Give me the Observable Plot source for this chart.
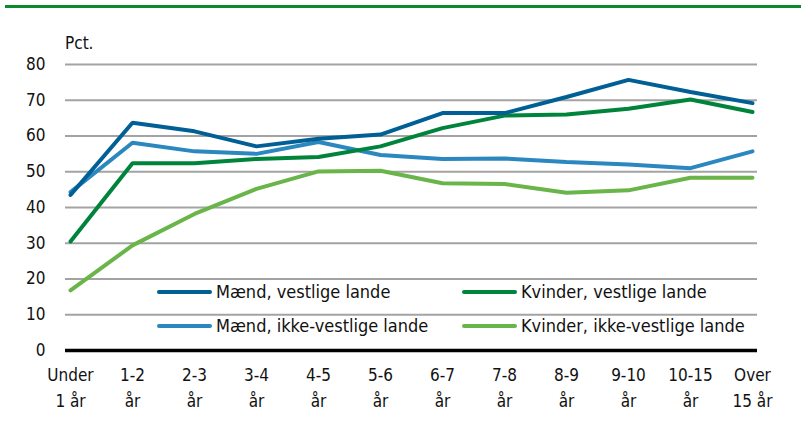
<!DOCTYPE html>
<html>
<head>
<meta charset="utf-8">
<script src="https://cdn.jsdelivr.net/npm/d3@7"></script>
<script src="https://cdn.jsdelivr.net/npm/@observablehq/plot@0.6"></script>
<style>
  html, body { margin: 0; padding: 0; background: #fff; }
  #wrap { position: relative; width: 803px; height: 421px; font-family: "Liberation Sans Narrow", "DejaVu Sans Condensed", "Open Sans", sans-serif; }
  #topline { position: absolute; left: 5px; top: 5px; width: 796px; height: 3px; background: #0b8a2b; }
  #unit { position: absolute; left: 65px; top: 33px; font-size: 17px; color: #111; }
  .leg { position: absolute; display: flex; align-items: center; font-size: 18px; color: #111; white-space: nowrap; }
  .leg span.sw { display: inline-block; width: 55px; height: 4px; border-radius: 2px; margin-right: 4px; }
  svg text { font-family: "Liberation Sans Narrow", "DejaVu Sans Condensed", "Open Sans", sans-serif; }
</style>
</head>
<body>
<div id="wrap"></div>
<script>
const categories = ["Under 1 år","1-2 år","2-3 år","3-4 år","4-5 år","5-6 år","6-7 år","7-8 år","8-9 år","9-10 år","10-15 år","Over 15 år"];
const tickLine1 = ["Under","1-2","2-3","3-4","4-5","5-6","6-7","7-8","8-9","9-10","10-15","Over"];
const tickLine2 = ["1 år","år","år","år","år","år","år","år","år","år","år","15 år"];
const seriesNames = ["Mænd, vestlige lande","Kvinder, vestlige lande","Mænd, ikke-vestlige lande","Kvinder, ikke-vestlige lande"];
const maendVestlige   = [43.5, 63.7, 61.3, 57.1, 59.2, 60.4, 66.4, 66.4, 70.9, 75.7, 72.3, 69.2];
const kvinderVestlige = [30.5, 52.4, 52.4, 53.6, 54.1, 57.1, 62.2, 65.7, 66.0, 67.6, 70.2, 66.7];
const maendIkke       = [44.3, 58.1, 55.7, 55.0, 58.3, 54.7, 53.6, 53.7, 52.7, 52.0, 51.0, 55.7];
const kvinderIkke     = [16.8, 29.4, 38.2, 45.2, 50.1, 50.3, 46.8, 46.6, 44.1, 44.8, 48.3, 48.3];
const colors = ["#005f94", "#00843c", "#2a87c0", "#6ab54a"];
const yTicks = [0,10,20,30,40,50,60,70,80];

const allSeries = [maendVestlige, kvinderVestlige, maendIkke, kvinderIkke];
const data = [];
allSeries.forEach((vals, si) => vals.forEach((v, i) => data.push({cat: categories[i], value: v, series: seriesNames[si]})));
const drawOrder = [3, 2, 1, 0];

const l1 = Object.fromEntries(categories.map((c, i) => [c, tickLine1[i]]));
const l2 = Object.fromEntries(categories.map((c, i) => [c, tickLine2[i]]));

const chart = Plot.plot({
  width: 803,
  height: 421,
  marginLeft: 65,
  marginRight: 46,
  marginTop: 64,
  marginBottom: 71,
  style: {fontSize: "17px", color: "#111", background: "transparent"},
  x: {type: "point", domain: categories, padding: 0},
  y: {domain: [0, 80]},
  color: {domain: seriesNames, range: colors},
  marks: [
    Plot.gridY(yTicks.filter(d => d > 0), {stroke: "#a3a3a3", strokeOpacity: 1, strokeWidth: 2}),
    Plot.ruleY([0], {stroke: "#000", strokeWidth: 3.5}),
    Plot.axisY(yTicks, {tickSize: 0, tickPadding: 20, label: null, fontSize: 17}),
    Plot.axisX({tickSize: 0, tickPadding: 18, tickFormat: d => l1[d], label: null, fontSize: 17}),
    Plot.axisX({tickSize: 0, tickPadding: 44, tickFormat: d => l2[d], label: null, fontSize: 17}),
    ...drawOrder.map(si => Plot.line(data.filter(d => d.series === seriesNames[si]), {
      x: "cat", y: "value", stroke: colors[si], strokeWidth: 4, strokeLinejoin: "miter", strokeLinecap: "round"
    }))
  ]
});

const wrap = document.getElementById("wrap");
wrap.appendChild(chart);
chart.style.position = "absolute";
chart.style.left = "0";
chart.style.top = "0";

const topLineEl = document.createElement("div"); topLineEl.id = "topline"; wrap.appendChild(topLineEl);
const unitEl = document.createElement("div"); unitEl.id = "unit"; unitEl.textContent = "Pct."; wrap.appendChild(unitEl);

const legPos = [[157, 281], [462, 281], [157, 315], [462, 315]];
seriesNames.forEach((name, i) => {
  const d = document.createElement("div");
  d.className = "leg";
  d.style.left = legPos[i][0] + "px";
  d.style.top = legPos[i][1] + "px";
  d.innerHTML = `<span class="sw" style="background:${colors[i]}"></span>${name}`;
  wrap.appendChild(d);
});
</script>
</body>
</html>
